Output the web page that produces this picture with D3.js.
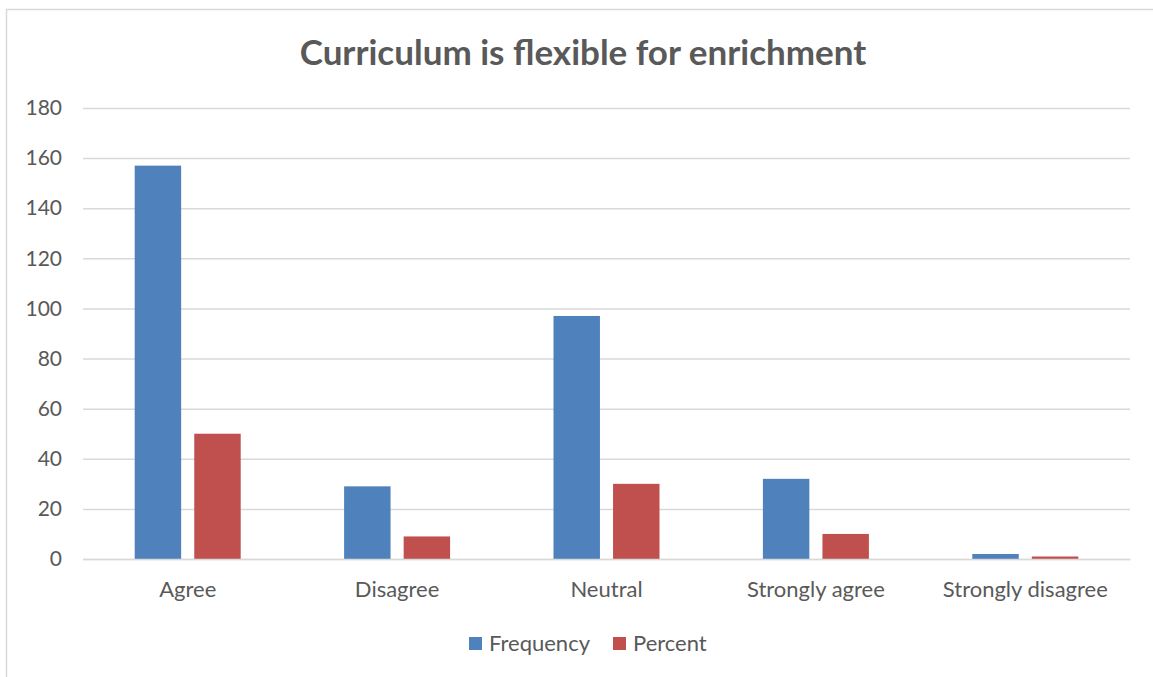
<!DOCTYPE html>
<html>
<head>
<meta charset="utf-8">
<script src="https://cdn.jsdelivr.net/npm/d3@7"></script>
<style>
  html, body { margin: 0; padding: 0; background: #fff; }
  svg { display: block; font-family: Lato, "Open Sans", sans-serif; }
</style>
</head>
<body>
<svg id="chart" width="1153" height="677"></svg>
<script>
const categories = ["Agree", "Disagree", "Neutral", "Strongly agree", "Strongly disagree"];
const seriesNames = ["Frequency", "Percent"];
const frequency = [157, 29, 97, 32, 2];
const percent = [50, 9, 30, 10, 1];
const yTicks = [0, 20, 40, 60, 80, 100, 120, 140, 160, 180];
const title = "Curriculum is flexible for enrichment";
const colors = ["#4f81bd", "#c0504d"];

const svg = d3.select("#chart");
const W = 1153, H = 677;
const plot = { left: 83, right: 1130, top: 108, bottom: 559 };
const FONT = "Lato, 'Open Sans', sans-serif";

// chart border
svg.append("rect").attr("x", 6.5).attr("y", 9.5).attr("width", W).attr("height", H)
  .attr("fill", "#fff").attr("stroke", "#d9d9d9").attr("stroke-width", 1.5);

svg.append("text").attr("x", 583).attr("y", 65).attr("text-anchor", "middle")
  .attr("font-size", 35).attr("font-weight", "bold").attr("fill", "#595959").text(title);

const y = d3.scaleLinear().domain([0, 180]).range([plot.bottom, plot.top]);
const x0 = d3.scaleBand().domain(categories).range([plot.left, plot.right]).paddingInner(0).paddingOuter(0);
const x1 = d3.scaleBand().domain(seriesNames).range([x0.bandwidth() / 2 - 53, x0.bandwidth() / 2 + 53]).paddingInner(0.22);

// gridlines
const yAxis = d3.axisLeft(y).tickValues(yTicks).tickSize(-(plot.right - plot.left)).tickPadding(21);
const gy = svg.append("g").attr("transform", `translate(${plot.left},0)`).call(yAxis);
gy.select(".domain").remove();
gy.selectAll(".tick line").attr("stroke", "#d9d9d9").attr("stroke-width", 1.5);
gy.selectAll(".tick text").attr("fill", "#595959").attr("font-size", 21)
  .attr("font-family", FONT);

const rows = categories.map((c, i) => ({ cat: c, vals: [frequency[i], percent[i]] }));
const groups = svg.append("g").selectAll("g").data(rows).join("g")
  .attr("transform", d => `translate(${x0(d.cat)},0)`);
groups.selectAll("rect").data(d => d.vals.map((v, j) => ({ v, s: seriesNames[j], j })))
  .join("rect")
  .attr("x", d => x1(d.s)).attr("width", x1.bandwidth())
  .attr("y", d => y(d.v)).attr("height", d => y(0) - y(d.v))
  .attr("fill", d => colors[d.j]);

// category axis
const xAxis = d3.axisBottom(x0).tickSize(0).tickPadding(22);
const gx = svg.append("g").attr("transform", `translate(0,${plot.bottom})`).call(xAxis);
gx.select(".domain").attr("stroke", "#d9d9d9").attr("stroke-width", 1.5);
gx.selectAll(".tick text").attr("fill", "#595959").attr("font-size", 22)
  .attr("font-family", FONT);

// legend
const legendItems = [{ name: seriesNames[0], x: 469 }, { name: seriesNames[1], x: 613 }];
const lg = svg.append("g").selectAll("g").data(legendItems).join("g")
  .attr("transform", d => `translate(${d.x},637)`);
lg.append("rect").attr("width", 13).attr("height", 13).attr("fill", (d, i) => colors[i]);
lg.append("text").attr("x", 20).attr("y", 14).attr("font-size", 22).attr("fill", "#595959").text(d => d.name);
</script>
</body>
</html>
